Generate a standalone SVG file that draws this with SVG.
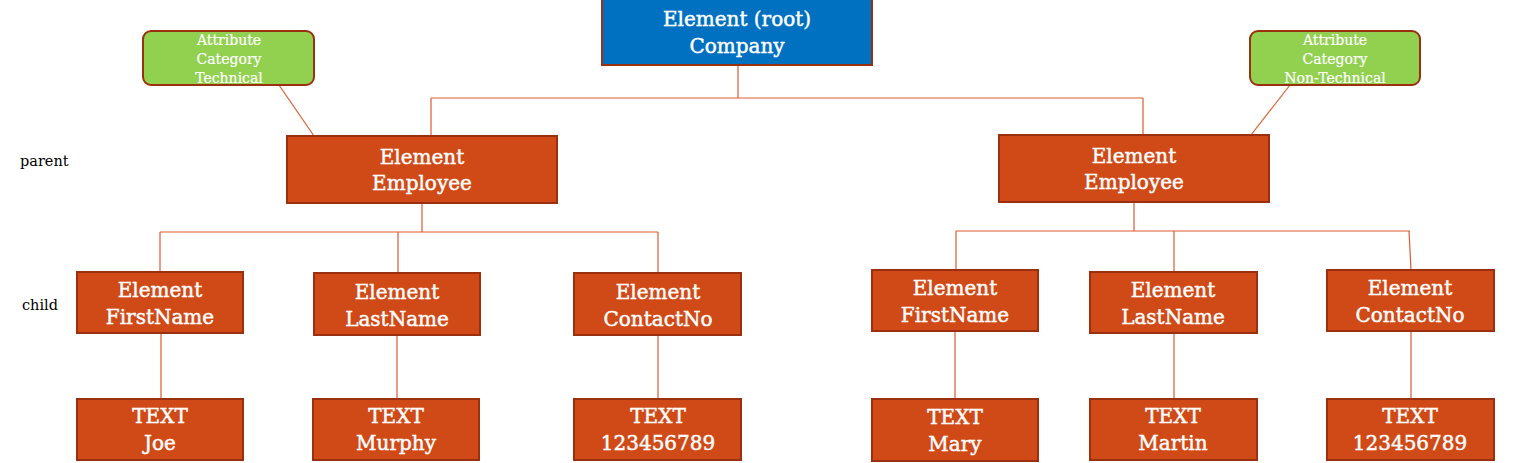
<svg xmlns="http://www.w3.org/2000/svg" width="1516" height="463" viewBox="0 0 1516 463">
<style>
.el{fill:#D04A18;stroke:#9A3010;stroke-width:2}
.root{fill:#0070C0;stroke:#9A3010;stroke-width:2}
.attr{fill:#92D050;stroke:#9A3010;stroke-width:2}
.t{font-family:"DejaVu Serif","Liberation Serif",serif;font-size:20px;fill:#fff;stroke:#fff;stroke-width:0.45;text-anchor:middle}
.ta{font-family:"DejaVu Serif","Liberation Serif",serif;font-size:14px;fill:#fff;stroke:#fff;stroke-width:0.2;text-anchor:middle}
.lbl{font-family:"DejaVu Serif","Liberation Serif",serif;font-size:14.5px;fill:#000}
.c{stroke:#DD5B30;stroke-width:1.2;fill:none}
</style>
<rect width="1516" height="463" fill="#fff"/>
<g id="connectors">
<path class="c" d="M738 65V98M431 98H1143M431 98V136M1143 98V135"/>
<path class="c" d="M279 85L314 136M1290 85L1251 135"/>
<path class="c" d="M422 203V232M160 232H658M160 232V272M398 232V273M658 232V273"/>
<path class="c" d="M1134 202V231M956 231H1410M956 231V270M1174 231V272M1409 231L1411 270"/>
<path class="c" d="M161 333V399M397 335V399M658 335V399M955 331V399M1174 333V399M1411 331V399"/>
</g>
<g id="labels">
<text class="lbl" x="20" y="166">parent</text>
<text class="lbl" x="22" y="310">child</text>
</g>
<g id="root"><rect class="root" x="602" y="-2" width="270" height="67"/><text class="t" x="737" y="26">Element (root)</text><text class="t" x="737" y="53">Company</text></g>
<g id="attr-technical"><rect class="attr" x="143" y="31" width="171" height="54" rx="8"/><text class="ta" x="229" y="45">Attribute</text><text class="ta" x="229" y="64">Category</text><text class="ta" x="229" y="83">Technical</text></g>
<g id="attr-nontechnical"><rect class="attr" x="1250" y="31" width="170" height="54" rx="8"/><text class="ta" x="1335" y="45">Attribute</text><text class="ta" x="1335" y="64">Category</text><text class="ta" x="1335" y="83">Non-Technical</text></g>
<g id="employee1"><rect class="el" x="287" y="136" width="270" height="67"/><text class="t" x="422" y="164">Element</text><text class="t" x="422" y="190">Employee</text></g>
<g id="employee2"><rect class="el" x="999" y="135" width="270" height="67"/><text class="t" x="1134" y="163">Element</text><text class="t" x="1134" y="189">Employee</text></g>
<g id="firstname1"><rect class="el" x="77" y="272" width="166" height="61"/><text class="t" x="160" y="297">Element</text><text class="t" x="160" y="324">FirstName</text></g>
<g id="lastname1"><rect class="el" x="314" y="273" width="166" height="62"/><text class="t" x="397" y="299">Element</text><text class="t" x="397" y="326">LastName</text></g>
<g id="contactno1"><rect class="el" x="574" y="273" width="167" height="62"/><text class="t" x="658" y="299">Element</text><text class="t" x="658" y="326">ContactNo</text></g>
<g id="firstname2"><rect class="el" x="872" y="270" width="166" height="61"/><text class="t" x="955" y="295">Element</text><text class="t" x="955" y="322">FirstName</text></g>
<g id="lastname2"><rect class="el" x="1090" y="272" width="167" height="61"/><text class="t" x="1173" y="297">Element</text><text class="t" x="1173" y="324">LastName</text></g>
<g id="contactno2"><rect class="el" x="1327" y="270" width="167" height="61"/><text class="t" x="1410" y="295">Element</text><text class="t" x="1410" y="322">ContactNo</text></g>
<g id="text-joe"><rect class="el" x="77" y="399" width="166" height="61"/><text class="t" x="160" y="423">TEXT</text><text class="t" x="160" y="450">Joe</text></g>
<g id="text-murphy"><rect class="el" x="313" y="399" width="166" height="61"/><text class="t" x="396" y="423">TEXT</text><text class="t" x="396" y="450">Murphy</text></g>
<g id="text-contact1"><rect class="el" x="574" y="399" width="167" height="61"/><text class="t" x="658" y="423">TEXT</text><text class="t" x="658" y="450">123456789</text></g>
<g id="text-mary"><rect class="el" x="872" y="399" width="166" height="62"/><text class="t" x="955" y="424">TEXT</text><text class="t" x="955" y="451">Mary</text></g>
<g id="text-martin"><rect class="el" x="1090" y="399" width="167" height="61"/><text class="t" x="1173" y="423">TEXT</text><text class="t" x="1173" y="450">Martin</text></g>
<g id="text-contact2"><rect class="el" x="1327" y="399" width="167" height="61"/><text class="t" x="1410" y="423">TEXT</text><text class="t" x="1410" y="450">123456789</text></g>
</svg>
